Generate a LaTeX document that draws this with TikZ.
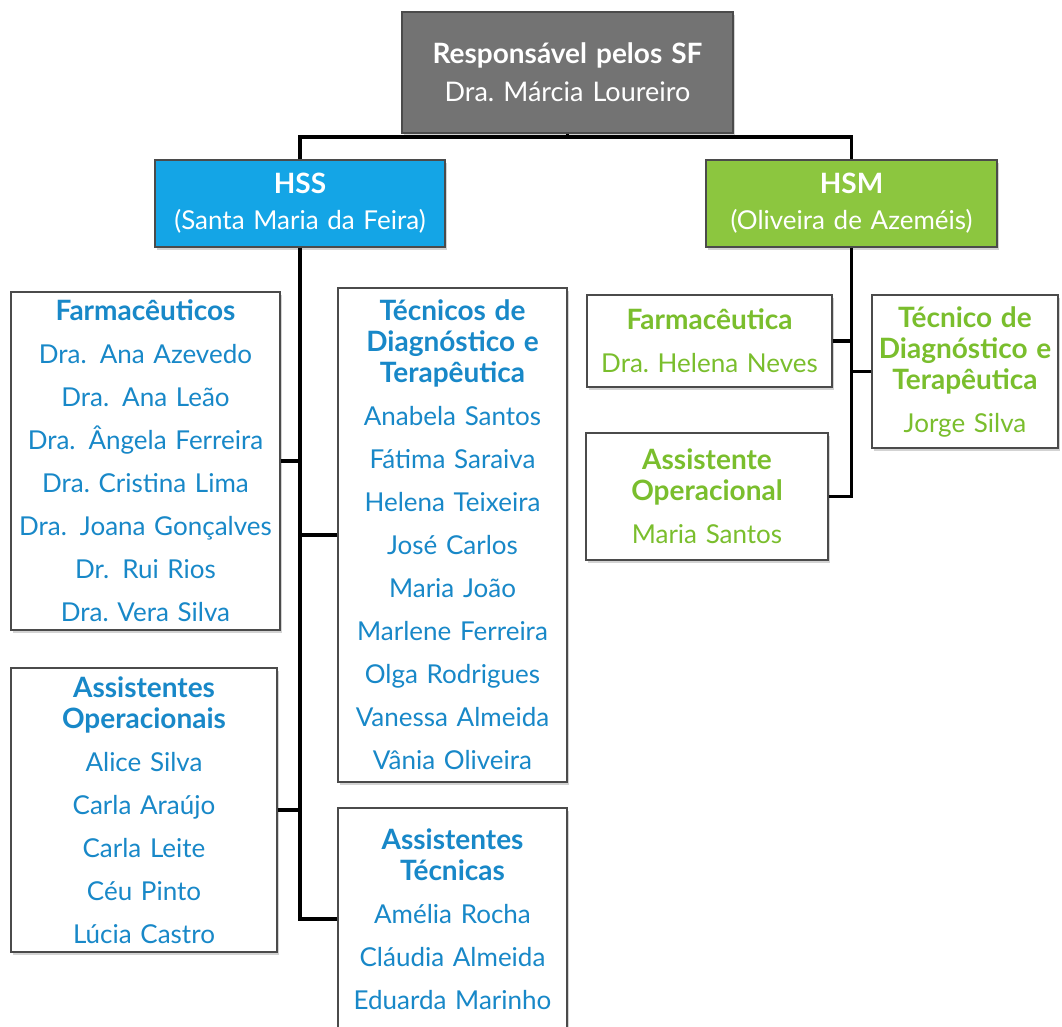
\documentclass[tikz,border=0pt]{standalone}
\usepackage{fontspec}
\setmainfont{Lato}
\usetikzlibrary{shadows}

\definecolor{sfblue}{RGB}{24,136,200}
\definecolor{sfgreen}{RGB}{122,190,45}
\definecolor{hssfill}{RGB}{20,165,230}
\definecolor{hsmfill}{RGB}{140,198,63}
\definecolor{bossfill}{RGB}{115,115,115}
\definecolor{boxline}{RGB}{75,75,75}

% bold heading lines inside the boxes
\newcommand{\boxhead}[1]{{\fontsize{28}{30}\selectfont\bfseries #1}}

\frenchspacing

\begin{document}
\begin{tikzpicture}[x=1pt, y=-1pt]
    % Basic box styles
    \tikzset{
        box/.style={
            rectangle,
            draw=boxline,
            line width=1.2pt,
            drop shadow={shadow xshift=2pt, shadow yshift=-3pt, opacity=0.35},
            inner sep=0pt,
            align=center
        },
        unitbox/.style={box, text=white, font=\fontsize{26}{36}\selectfont},
        bluestaff/.style={box, fill=white, text=sfblue, font=\fontsize{26}{43}\selectfont},
        greenstaff/.style={box, fill=white, text=sfgreen, font=\fontsize{26}{43}\selectfont},
        link/.style={line width=3.2pt, black}
    }

    \useasboundingbox (0,0) rectangle (1062,1026);
    \clip (0,0) rectangle (1062,1026);

    % Head of the pharmacy services
    \node[unitbox, fill=bossfill, text width=331pt, minimum height=121pt,
          font=\fontsize{27}{38}\selectfont] (boss) at (567.5,72.5)
        {\boxhead{Responsável pelos SF}\\Dra. Márcia Loureiro};

    % Hospitals
    \node[unitbox, fill=hssfill, text width=290pt, minimum height=87pt] (hss) at (300,203.5)
        {\boxhead{HSS}\\(Santa Maria da Feira)};
    \node[unitbox, fill=hsmfill, text width=291pt, minimum height=87pt] (hsm) at (851.5,203.5)
        {\boxhead{HSM}\\(Oliveira de Azeméis)};

    % HSS staff (blue)
    \node[bluestaff, text width=269pt, minimum height=338pt] (farm) at (145.5,461)
        {\boxhead{Farmacêuticos}\\Dra.\ \,Ana Azevedo\\Dra.\ \,Ana Leão\\Dra.\ \,Ângela Ferreira\\
         Dra. Cristina Lima\\Dra.\ \,Joana Gonçalves\\Dr.\ \,Rui Rios\\Dra. Vera Silva};
    \node[bluestaff, text width=229pt, minimum height=494pt] (tdt) at (452.5,535)
        {\boxhead{Técnicos de}\\[-12pt]\boxhead{Diagnóstico e}\\[-12pt]\boxhead{Terapêutica}\\
         Anabela Santos\\Fátima Saraiva\\Helena Teixeira\\José Carlos\\Maria João\\
         Marlene Ferreira\\Olga Rodrigues\\Vanessa Almeida\\Vânia Oliveira};
    \node[bluestaff, text width=266pt, minimum height=284pt] (aop) at (144,810)
        {\boxhead{Assistentes}\\[-12pt]\boxhead{Operacionais}\\Alice Silva\\Carla Araújo\\
         Carla Leite\\Céu Pinto\\Lúcia Castro};
    \node[bluestaff, text width=229pt, minimum height=222pt] (atec) at (452.5,919)
        {\boxhead{Assistentes}\\[-12pt]\boxhead{Técnicas}\\Amélia Rocha\\Cláudia Almeida\\
         Eduarda Marinho};

    % HSM staff (green)
    \node[greenstaff, text width=245pt, minimum height=92pt] (hfarm) at (709.5,341)
        {\boxhead{Farmacêutica}\\Dra. Helena Neves};
    \node[greenstaff, text width=242pt, minimum height=127pt] (haop) at (707,496.5)
        {\boxhead{Assistente}\\[-12pt]\boxhead{Operacional}\\Maria Santos};
    \node[greenstaff, text width=186pt, minimum height=153pt] (htdt) at (965,371.5)
        {\boxhead{Técnico de}\\[-12pt]\boxhead{Diagnóstico e}\\[-12pt]\boxhead{Terapêutica}\\Jorge Silva};

    % Connections from the head
    \coordinate (bus) at (567.5,137);
    \draw[link] (boss.south) -- (bus);
    \draw[link] (hss.north) |- (bus) -| (hsm.north);

    % Connections inside HSS
    \draw[link] (hss.south) |- (atec.west);
    \draw[link] (farm.east) -- (farm.east -| hss.south);
    \draw[link] (tdt.west) -- (tdt.west -| hss.south);
    \draw[link] (aop.east) -- (aop.east -| hss.south);

    % Connections inside HSM
    \draw[link] (hsm.south) |- (haop.east);
    \draw[link] (hfarm.east) -- (hfarm.east -| hsm.south);
    \draw[link] (htdt.west) -- (htdt.west -| hsm.south);
\end{tikzpicture}
\end{document}
